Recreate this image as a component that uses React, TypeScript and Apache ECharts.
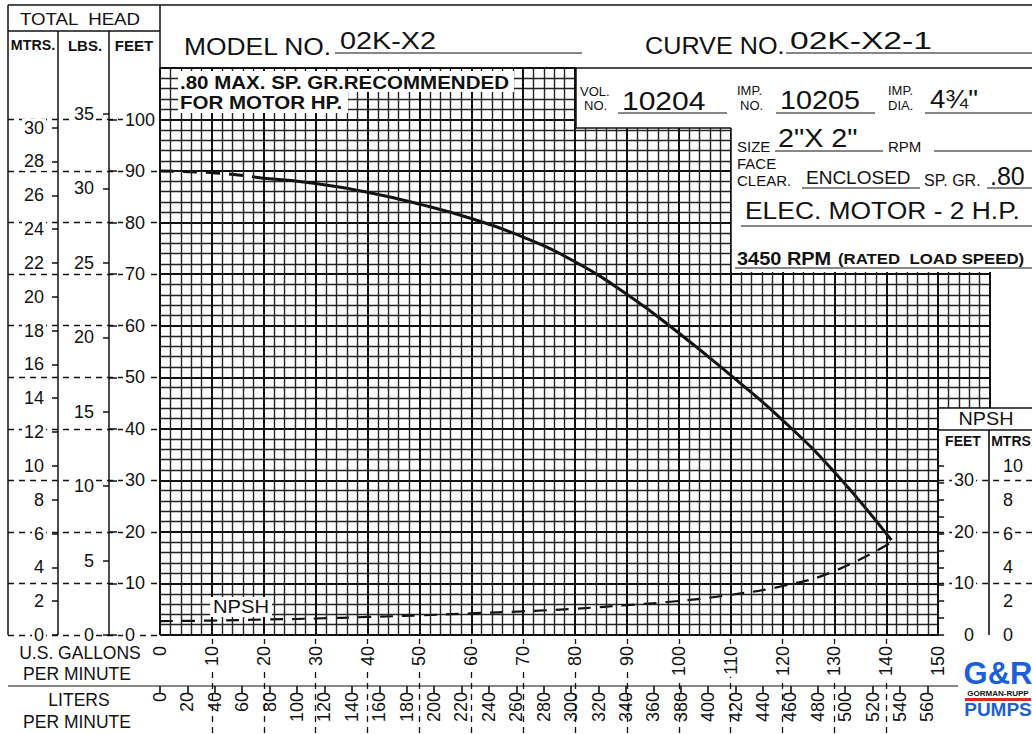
import React, { useEffect, useRef } from "react";
import * as echarts from "echarts";

// ---------- data ----------
const headDashedFlow = [0, 10, 20];
const headDashedFeet = [90.0, 89.7, 88.6];
const headSolidFlow = [20, 30, 40, 50, 60, 70, 80, 90, 100, 110, 120, 130, 141];
const headSolidFeet = [88.6, 87.6, 85.9, 83.6, 80.8, 77.2, 72.4, 66.1, 58.6, 50.4, 41.7, 31.6, 18.4];
const npshFlow = [0, 10, 20, 30, 40, 50, 60, 70, 80, 90, 100, 110, 120, 130, 141];
const npshFeet = [2.7, 2.8, 3.0, 3.2, 3.5, 3.8, 4.2, 4.6, 5.1, 5.8, 6.6, 7.8, 9.5, 12.4, 18.0];

// axis ranges / tick steps
const gpmRange = [0, 160];
const gpmLabelMax = 150;
const feetRange = [0, 110];
const feetLabelMax = 100;
const psiLabelMax = 35;
const mtrsLabelMax = 30;
const literLabelMax = 560;
const npshFeetMax = 40;
const npshMtrsMax = 10;
const FT_PER_M = 3.28084;
const FT_PER_PSI = 2.31 / 0.8;
const L_PER_GAL = 3.78541;

const FONT = "'Liberation Sans', Arial, sans-serif";
const INK = "#111111";

const zip = (a: number[], b: number[]) => a.map((v, i) => [v, b[i]]);

export default function App() {
  const ref = useRef<HTMLDivElement>(null);
  useEffect(() => {
    document.body.style.margin = "0";
    const chart = echarts.init(ref.current!, undefined, { renderer: "svg" });

    const X0 = 160, XR = 990, Y0 = 635, YT = 68;
    const pxFt = (Y0 - YT) / (feetRange[1] - feetRange[0]);
    const pxGpm = (XR - X0) / (gpmRange[1] - gpmRange[0]);

    const hFeet = feetLabelMax * pxFt;
    const hPsi = psiLabelMax * FT_PER_PSI * pxFt;
    const hM = mtrsLabelMax * FT_PER_M * pxFt;
    const npX = X0 + gpmLabelMax * pxGpm;
    const hNpF = npshFeetMax * pxFt;
    const hNpM = npshMtrsMax * FT_PER_M * pxFt;
    const wLit = (literLabelMax / L_PER_GAL) * pxGpm;

    const grids = [
      { left: X0, top: YT, width: XR - X0, height: Y0 - YT }, // 0 main
      { left: 8, top: Y0 - hFeet, width: X0 - 8, height: hFeet }, // 1 left dashes
      { left: 109, top: Y0 - hFeet, width: 51, height: hFeet }, // 2 feet
      { left: 109, top: Y0 - hPsi, width: 51, height: hPsi }, // 3 psi
      { left: 58, top: Y0 - hM, width: 51, height: hM }, // 4 meters
      { left: X0, top: 639, width: gpmLabelMax * pxGpm, height: 95 }, // 5 bottom dashes
      { left: X0, top: 600, width: wLit, height: 86 }, // 6 liters
      { left: npX, top: Y0 - hNpF, width: 989 - npX, height: hNpF }, // 7 npsh feet
      { left: npX, top: Y0 - hNpF, width: 1032 - npX, height: hNpF }, // 8 npsh dashes
      { left: npX, top: Y0 - hNpM, width: 989 - npX, height: hNpM }, // 9 npsh meters
    ];

    const hiddenX = (g: number) => ({ gridIndex: g, type: "value", min: 0, max: 1, show: false });
    const hiddenY = (g: number) => ({ gridIndex: g, type: "value", min: 0, max: 1, show: false });
    const lbl = (extra: any) => ({
      color: INK,
      fontFamily: FONT,
      fontSize: 18,
      backgroundColor: "#fff",
      padding: [0, 2],
      ...extra,
    });
    const dash = { show: true, showMinLine: true, showMaxLine: true, lineStyle: { color: INK, width: 1.3, type: [6, 5] } };

    const xAxis: any[] = [
      {
        gridIndex: 0, type: "value", min: gpmRange[0], max: gpmRange[1], interval: 10, z: 5,
        axisLine: { show: false }, axisTick: { show: false },
        axisLabel: lbl({ rotate: 90, margin: 9, formatter: (v: number) => (v <= gpmLabelMax ? String(v) : "") }),
        splitLine: { show: true, lineStyle: { color: "#111", width: 2 } },
        minorTick: { show: false, splitNumber: 5 },
        minorSplitLine: { show: true, lineStyle: { color: "#222", width: 1.4 } },
      },
      hiddenX(1), hiddenX(2), hiddenX(3), hiddenX(4),
      {
        gridIndex: 5, type: "value", min: 0, max: gpmLabelMax, interval: 10,
        axisLine: { show: false }, axisTick: { show: false }, axisLabel: { show: false },
        splitLine: { ...dash, showMinLine: false, showMaxLine: false },
      },
      {
        gridIndex: 6, type: "value", min: 0, max: literLabelMax, interval: 20, position: "bottom", z: 5,
        axisLine: { show: false },
        axisTick: { show: true, length: 7, lineStyle: { color: INK, width: 1.6 } },
        axisLabel: lbl({ rotate: 90, margin: 4, backgroundColor: "transparent" }),
        splitLine: { show: false },
      },
      hiddenX(7), hiddenX(8), hiddenX(9),
    ];

    const yAxis: any[] = [
      {
        gridIndex: 0, type: "value", min: feetRange[0], max: feetRange[1], interval: 10,
        axisLine: { show: false }, axisTick: { show: false }, axisLabel: { show: false },
        splitLine: { show: true, lineStyle: { color: "#111", width: 1.8 } },
        minorTick: { show: false, splitNumber: 5 },
        minorSplitLine: { show: true, lineStyle: { color: "#222", width: 1.4 } },
      },
      {
        gridIndex: 1, type: "value", min: 0, max: feetLabelMax, interval: 10,
        axisLine: { show: false }, axisTick: { show: false }, axisLabel: { show: false },
        splitLine: dash,
      },
      {
        gridIndex: 2, type: "value", min: 0, max: feetLabelMax, interval: 10, position: "left", z: 5,
        axisLine: { show: false },
        axisTick: { show: true, inside: true, length: 8, lineStyle: { color: INK, width: 1.5 } },
        axisLabel: lbl({ inside: true, margin: 14 }),
        splitLine: { show: false },
      },
      {
        gridIndex: 3, type: "value", min: 0, max: psiLabelMax, interval: 5, position: "left", z: 5,
        axisLine: { show: false },
        axisTick: { show: true, length: 6, lineStyle: { color: INK, width: 1.5 } },
        axisLabel: lbl({ margin: 13 }),
        splitLine: { show: false },
      },
      {
        gridIndex: 4, type: "value", min: 0, max: mtrsLabelMax, interval: 2, position: "left", z: 5,
        axisLine: { show: false },
        axisTick: { show: true, length: 6, lineStyle: { color: INK, width: 1.5 } },
        axisLabel: lbl({ margin: 12 }),
        splitLine: { show: false },
      },
      hiddenY(5), hiddenY(6),
      {
        gridIndex: 7, type: "value", min: 0, max: npshFeetMax, interval: 10, position: "right", z: 30,
        axisLine: { show: false },
        axisTick: { show: false },
        axisLabel: lbl({ inside: true, margin: 13, formatter: (v: number) => (v < npshFeetMax ? String(v) : "") }),
        splitLine: { show: false },
      },
      {
        gridIndex: 8, type: "value", min: 0, max: npshFeetMax, interval: 10, z: 25,
        axisLine: { show: false }, axisTick: { show: false }, axisLabel: { show: false },
        splitLine: { ...dash, showMinLine: false, showMaxLine: false },
      },
      {
        gridIndex: 9, type: "value", min: 0, max: npshMtrsMax, interval: 1, position: "right", z: 30,
        axisLine: { show: false },
        axisTick: { show: true, length: 6, lineStyle: { color: INK, width: 1.5 } },
        axisLabel: lbl({ margin: 12, formatter: (v: number) => (v % 2 === 0 ? String(v) : "") }),
        splitLine: { show: false },
      },
    ];

    // ---------- decoration ----------
    const L = (x1: number, y1: number, x2: number, y2: number, w = 1.5) => ({
      type: "line", z: 20, shape: { x1, y1, x2, y2 }, style: { stroke: INK, lineWidth: w },
    });
    const T = (text: string, x: number, y: number, size: number, o: any = {}) => ({
      type: "text", z: o.z || 21,
      x, y, scaleX: o.sx || 1,
      style: {
        text, x: 0, y: 0,
        font: `${o.bold ? "bold " : ""}${size}px ${FONT}`,
        fill: o.fill || INK,
        align: o.align || "left", textAlign: o.align || "left",
        verticalAlign: "middle", textVerticalAlign: "middle",
      },
    });
    const R = (x: number, y: number, w: number, h: number, fill = "#fff", z = 15) => ({
      type: "rect", z, shape: { x, y, width: w, height: h }, style: { fill },
    });

    const graphic: any[] = [
      // boxes covering grid
      R(576, 62, 456, 66),
      R(731, 128, 301, 144),
      R(npX + 1, 408, 1032 - npX, 232),
      R(178, 71, 336, 21),
      R(178, 92, 170, 21),
      R(210, 597, 62, 20),
      // frame lines
      L(8, 5, 1032, 5),
      L(8, 31, 160, 31),
      L(8, 5, 8, 635),
      L(58, 31, 58, 635),
      L(109, 31, 109, 635),
      L(160, 5, 160, 68),
      L(576, 68, 1032, 68),
      L(576, 68, 576, 128),
      L(576, 128, 731, 128),
      L(731, 128, 731, 272),
      L(npX, 408, 1032, 408),
      L(npX, 430, 1032, 430),
      L(npX, 408, npX, 635),
      { ...L(989, 430, 989, 635, 1.6), z: 31 },
      L(8, 686, 958, 686, 1.2),
      // left header
      T("TOTAL  HEAD", 80, 19, 17, { align: "center", sx: 1.1 }),
      T("MTRS.", 33, 45, 15, { align: "center", bold: true, sx: 0.95 }),
      T("LBS.", 85, 45, 15, { align: "center", bold: true }),
      T("FEET", 134, 45, 15, { align: "center", bold: true }),
      // bottom-left
      T("U.S. GALLONS", 80, 653, 17.5, { align: "center" }),
      T("PER MINUTE", 77, 674, 17.5, { align: "center" }),
      T("LITERS", 79, 700, 17.5, { align: "center" }),
      T("PER MINUTE", 77, 722, 17.5, { align: "center" }),
      // top header
      T("MODEL NO.", 184, 46, 24, { sx: 1.1 }),
      T("02K-X2", 340, 41, 24, { sx: 1.2 }),
      L(335, 53, 582, 53, 1.2),
      T("CURVE NO.", 645, 46, 24, { sx: 1.05 }),
      T("02K-X2-1", 790, 41, 24, { sx: 1.4 }),
      L(786, 53, 1032, 53, 1.2),
      // note
      T(".80 MAX. SP. GR.RECOMMENDED", 180, 82, 19, { bold: true, sx: 1.08 }),
      T("FOR MOTOR HP.", 180, 102, 19, { bold: true, sx: 1.08 }),
      T("NPSH", 213, 607, 18, { sx: 1.12 }),
      // box A
      T("VOL.", 580, 91, 13),
      T("NO.", 584, 105, 13),
      T("10204", 622, 101, 25, { sx: 1.2 }),
      L(618, 113, 727, 113, 1.2),
      T("IMP.", 737, 90, 13),
      T("NO.", 740, 105, 13),
      T("10205", 780, 101, 25, { sx: 1.15 }),
      L(776, 113, 875, 113, 1.2),
      T("IMP.", 888, 90, 13),
      T("DIA.", 888, 105, 13),
      T("4¾\"", 930, 99, 25, { sx: 1.1 }),
      L(925, 113, 1032, 113, 1.2),
      // box B
      T("SIZE", 737, 146, 15),
      T("2\"X 2\"", 778, 139, 25, { sx: 1.15 }),
      L(775, 151, 883, 151, 1.2),
      T("RPM", 888, 146, 15),
      L(934, 151, 1032, 151, 1.2),
      T("FACE", 737, 163, 15),
      T("CLEAR.", 737, 180, 15),
      T("ENCLOSED", 806, 177, 19),
      L(802, 188, 920, 188, 1.2),
      T("SP. GR.", 924, 180, 16),
      T(".80", 990, 176, 25),
      L(987, 188, 1032, 188, 1.2),
      T("ELEC. MOTOR - 2 H.P.", 745, 210, 24, { sx: 1.1 }),
      L(741, 226, 1032, 226, 1.2),
      T("3450 RPM", 737, 258, 19, { bold: true, sx: 1.05 }),
      T("(RATED  LOAD SPEED)", 838, 259, 15, { bold: true, sx: 1.12 }),
      L(735, 268, 1032, 268, 1.2),
      // NPSH box header
      T("NPSH", 986, 419, 18, { align: "center", sx: 1.1 }),
      T("FEET", 963, 441, 14, { align: "center", bold: true }),
      T("MTRS", 1011, 441, 14, { align: "center", bold: true }),
      // logo
      T("G&R", 998, 673, 31, { align: "center", bold: true, fill: "#1d5fd6" }),
      T("GORMAN-RUPP", 998, 693, 8, { align: "center", bold: true, fill: "#111" }),
      R(965, 698, 66, 3, "#e3262b", 22),
      T("PUMPS", 998, 709, 19, { align: "center", bold: true, fill: "#1d5fd6" }),
    ];

    chart.setOption({
      animation: false,
      backgroundColor: "#fff",
      grid: grids,
      xAxis,
      yAxis,
      graphic,
      series: [
        {
          type: "line", xAxisIndex: 0, yAxisIndex: 0, smooth: true, showSymbol: false, z: 3,
          data: zip(headDashedFlow, headDashedFeet),
          lineStyle: { color: INK, width: 3, type: [14, 9] },
        },
        {
          type: "line", xAxisIndex: 0, yAxisIndex: 0, smooth: true, showSymbol: false, z: 3,
          data: zip(headSolidFlow, headSolidFeet),
          lineStyle: { color: INK, width: 3 },
        },
        {
          type: "line", xAxisIndex: 0, yAxisIndex: 0, smooth: true, showSymbol: false, z: 3,
          data: zip(npshFlow, npshFeet),
          lineStyle: { color: INK, width: 2.2, type: [13, 9] },
        },
      ],
    });
    return () => chart.dispose();
  }, []);
  return <div ref={ref} style={{ width: 1032, height: 734 }} />;
}
